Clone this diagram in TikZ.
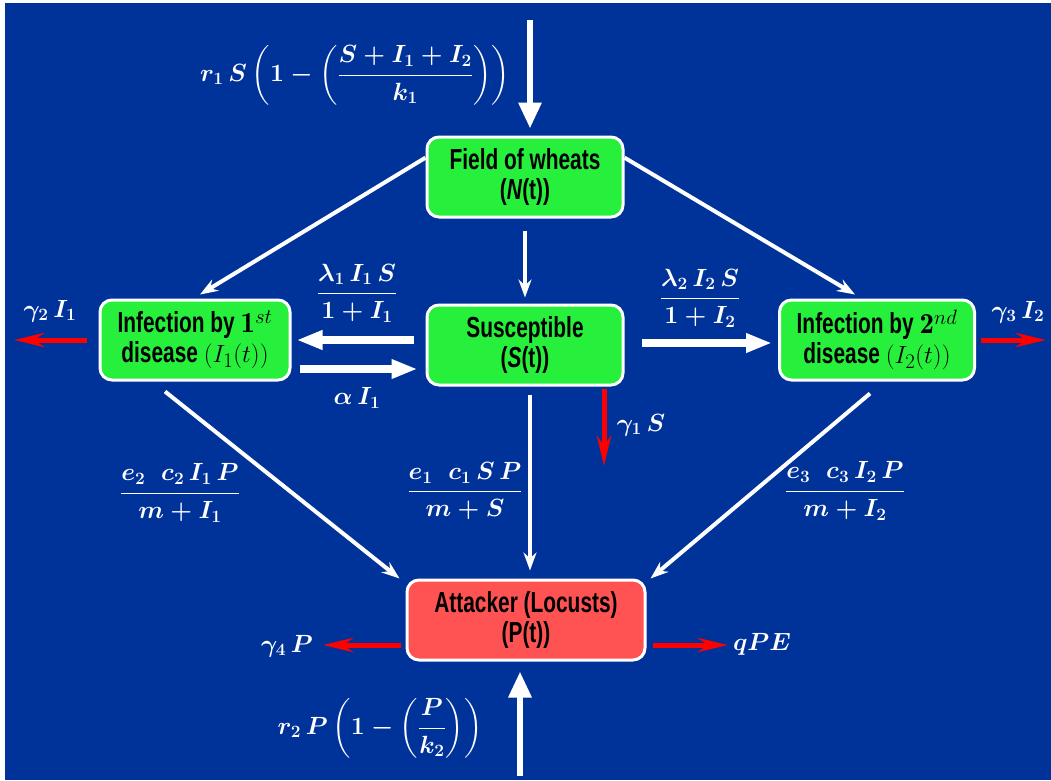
\documentclass[tikz,border=0pt]{standalone}
\usepackage{fontspec}
\usepackage{amsmath}
\usetikzlibrary{arrows.meta,calc}
\newfontfamily\boxfont[FakeStretch=0.72]{Liberation Sans}
\definecolor{bgblue}{RGB}{0,51,153}
\definecolor{boxgreen}{RGB}{38,240,60}
\definecolor{boxred}{RGB}{255,82,82}
\definecolor{arrred}{RGB}{255,0,0}
\tikzset{
  box/.style={draw=white, line width=3pt, rounded corners=12pt, align=center,
    font=\boxfont\bfseries\fontsize{29}{33}\selectfont, text=black, inner sep=3pt},
  gbox/.style={box, fill=boxgreen},
  rbox/.style={box, fill=boxred},
  lab/.style={text=white, font=\fontsize{23}{27}\selectfont\boldmath, inner sep=1pt},
  bigin/.style={draw=white, line width=6pt, -{Triangle[length=26pt,width=22pt]}},
  thick arr/.style={draw=white, line width=8pt, -{Triangle[length=26pt,width=18pt]}},
  thin arr/.style={draw=white, line width=4pt, -{Stealth[length=18pt,width=13pt,inset=6pt]}},
  red arr/.style={draw=arrred, line width=5pt, -{Stealth[length=30pt,width=14pt,inset=10pt]}},
}
\newcommand{\boxmath}[1]{{\fontsize{32}{33}\selectfont$#1$}}
\begin{document}
\begin{tikzpicture}[x=1pt,y=-1pt]
\useasboundingbox (0,0) rectangle (1051,780);
\fill[white] (0,0) rectangle (1051,780);
\fill[bgblue] (5,3) rectangle (1051,780);

% nodes
\node[gbox, minimum width=196pt, minimum height=80pt] (F) at (525,177) {Field of wheats\\[-3pt](\textit{N}(t))};
\node[gbox, minimum width=196pt, minimum height=80pt] (S) at (525,345) {Susceptible\\[-3pt](\textit{S}(t))};
\node[gbox, minimum width=190pt, minimum height=80pt] (I1) at (195,340) {Infection by $\mathbf{1}^{st}$\\[-3pt]disease \boxmath{(I_1(t))}};
\node[gbox, minimum width=195pt, minimum height=80pt] (I2) at (877,340) {Infection by $\mathbf{2}^{nd}$\\[-3pt]disease \boxmath{(I_2(t))}};
\node[rbox, minimum width=238pt, minimum height=80pt] (P) at (526,620) {Attacker (Locusts)\\[-3pt](P(t))};

% free ends
\coordinate (topin) at (530,20);
\coordinate (botin) at (520,776);
\coordinate (g1end) at (604,466);
\coordinate (g2end) at (14,340);
\coordinate (g3end) at (1046,340);
\coordinate (g4end) at (323,645);
\coordinate (qend) at (728,645);

% arrows
\draw[bigin] (topin) -- ($(F.north)+(5,-7)$);
\draw[bigin] (botin) -- ($(P.south)+(-6,10)$);
\draw[thin arr] (F.169) -- ($(I1.north)+(5,-4)$);
\draw[thin arr] (F.11) -- ($(I2.north)+(-22,-4)$);
\draw[thin arr] ($(F.south)+(0,12)$) -- ($(S.north)+(0,-6)$);
\draw[thick arr] ($(S.west)+(-12,-5)$) -- ($(I1.east)+(5,0)$);
\draw[thick arr] ($(I1.east)+(8,29)$) -- ($(S.west)+(-8,24)$);
\draw[thick arr] ($(S.east)+(17,-2)$) -- ($(I2.west)+(-6,3)$);
\draw[thin arr] ($(S.south)+(5,8)$) -- ($(P.north)+(4,-8)$);
\draw[thin arr] ($(I1.south)+(-30,10)$) -- ($(P.north west)+(-6,0)$);
\draw[thin arr] ($(I2.south)+(-7,12)$) -- ($(P.north east)+(4,0)$);
\draw[red arr] ($(S.south)+(79,2)$) -- (g1end);
\draw[red arr] ($(I1.west)+(-12,0)$) -- (g2end);
\draw[red arr] ($(I2.east)+(5,0)$) -- (g3end);
\draw[red arr] ($(P.west)+(-5,25)$) -- (g4end);
\draw[red arr] ($(P.east)+(6,25)$) -- (qend);

% labels
\node[lab] (lr1) at (355,75) {$r_1\,S\left(1-\left(\dfrac{S+I_1+I_2}{k_1}\right)\right)$};
\node[lab] (lr2) at (380,728) {$r_2\,P\left(1-\left(\dfrac{P}{k_2}\right)\right)$};
\node[lab] (llam1) at (357,293) {$\dfrac{\lambda_1\,I_1\,S}{1+I_1}$};
\node[lab] (lalpha) at (357,398) {$\alpha\,I_1$};
\node[lab] (llam2) at (700,298) {$\dfrac{\lambda_2\,I_2\,S}{1+I_2}$};
\node[lab] (lg2) at (50,311) {$\gamma_2\,I_1$};
\node[lab] (lg3) at (1018,312) {$\gamma_3\,I_2$};
\node[lab] (lg1) at (641,425) {$\gamma_1\,S$};
\node[lab] (le2) at (180,493) {$\dfrac{e_2\;\;c_2\,I_1\,P}{m+I_1}$};
\node[lab] (le1) at (465,491) {$\dfrac{e_1\;\;c_1\,S\,P}{m+S}$};
\node[lab] (le3) at (845,491) {$\dfrac{e_3\;\;c_3\,I_2\,P}{m+I_2}$};
\node[lab] (lg4) at (287,646) {$\gamma_4\,P$};
\node[lab] (lq) at (762,644) {$qPE$};
\end{tikzpicture}
\end{document}
